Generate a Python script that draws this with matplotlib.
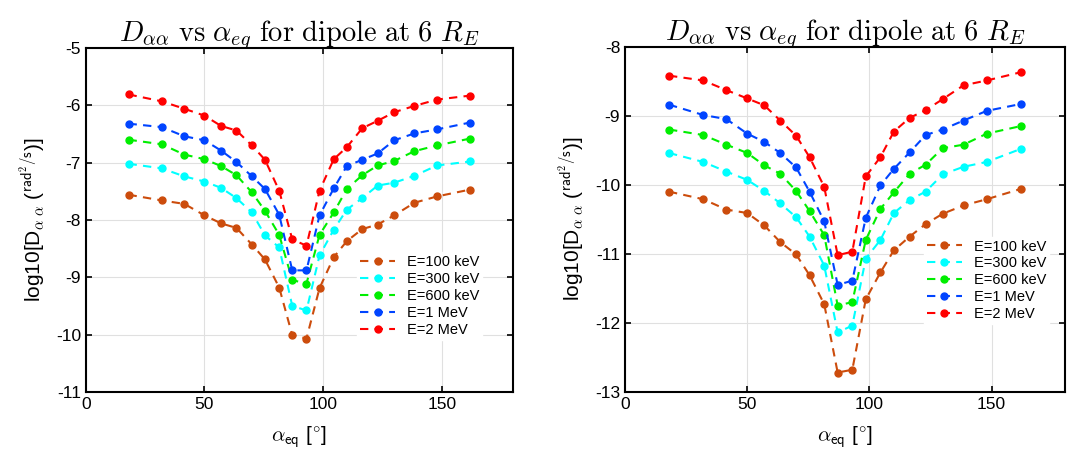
import matplotlib
matplotlib.use('Agg')
import matplotlib.pyplot as plt

plt.rcParams['mathtext.fontset'] = 'cm'
plt.rcParams['font.family'] = ['Liberation Sans', 'DejaVu Sans']

# pitch angles (deg)
alpha_eq = [18, 32, 41.5, 50, 57, 63.5, 70, 75.5, 81.5, 87,
            93, 98.5, 104.5, 110, 116.5, 123, 130, 138.5, 148, 162]

labels = ['E=100 keV', 'E=300 keV', 'E=600 keV', 'E=1 MeV', 'E=2 MeV']
colors = ['#cc4c0c', '#00ffff', '#00ee00', '#0044ff', '#ff0000']

# left panel: log10 D_aa
left_100k = [-7.56, -7.66, -7.72, -7.92, -8.06, -8.14, -8.43, -8.69, -9.18, -10.01,
             -10.07, -9.19, -8.65, -8.37, -8.16, -8.08, -7.92, -7.70, -7.59, -7.47]
left_300k = [-7.02, -7.10, -7.24, -7.33, -7.44, -7.62, -7.87, -8.27, -8.48, -9.50,
             -9.58, -8.62, -8.17, -7.82, -7.62, -7.40, -7.35, -7.23, -7.05, -6.98]
left_600k = [-6.60, -6.68, -6.86, -6.94, -7.06, -7.22, -7.52, -7.84, -8.26, -9.05,
             -9.11, -8.26, -7.87, -7.46, -7.22, -7.05, -6.97, -6.80, -6.70, -6.58]
left_1M = [-6.32, -6.38, -6.54, -6.61, -6.79, -6.99, -7.24, -7.46, -7.91, -8.88,
           -8.88, -7.92, -7.45, -7.06, -6.95, -6.84, -6.61, -6.49, -6.42, -6.30]
left_2M = [-5.81, -5.93, -6.06, -6.18, -6.36, -6.44, -6.70, -6.95, -7.49, -8.34,
           -8.45, -7.49, -6.94, -6.73, -6.40, -6.27, -6.12, -6.01, -5.90, -5.83]

# right panel
right_100k = [-10.10, -10.21, -10.36, -10.41, -10.59, -10.83, -11.01, -11.31, -11.73, -12.72,
              -12.68, -11.66, -11.27, -10.95, -10.75, -10.57, -10.42, -10.30, -10.21, -10.06]
right_300k = [-9.54, -9.67, -9.81, -9.93, -10.09, -10.27, -10.47, -10.75, -11.17, -12.14,
              -12.04, -11.07, -10.80, -10.41, -10.22, -10.10, -9.85, -9.74, -9.67, -9.48]
right_600k = [-9.20, -9.28, -9.42, -9.54, -9.72, -9.84, -10.09, -10.38, -10.73, -11.75,
              -11.70, -10.80, -10.35, -10.11, -9.84, -9.71, -9.47, -9.42, -9.26, -9.15]
right_1M = [-8.84, -8.99, -9.05, -9.26, -9.38, -9.54, -9.75, -10.10, -10.53, -11.45,
            -11.39, -10.48, -10.01, -9.77, -9.53, -9.28, -9.20, -9.07, -8.93, -8.83]
right_2M = [-8.42, -8.49, -8.63, -8.75, -8.85, -9.07, -9.29, -9.60, -10.03, -11.02,
            -10.97, -9.88, -9.60, -9.23, -9.03, -8.92, -8.76, -8.56, -8.49, -8.37]

left_series = [left_100k, left_300k, left_600k, left_1M, left_2M]
right_series = [right_100k, right_300k, right_600k, right_1M, right_2M]

fig = plt.figure(figsize=(10.73, 4.53), dpi=100)
ax1 = fig.add_axes([0.080, 0.135, 0.398, 0.759])
ax2 = fig.add_axes([0.5825, 0.135, 0.410, 0.762])

title = r'$D_{\alpha\alpha}\ \mathrm{vs}\ \alpha_{eq}\ \mathrm{for\ dipole\ at\ 6}\ R_E$'

for ax, series, ylim, leg_anchor in [(ax1, left_series, (-11, -5), (0.945, 0.13)),
                                     (ax2, right_series, (-13, -8), (0.98, 0.175))]:
    for vals, lab, c in zip(series, labels, colors):
        ax.plot(alpha_eq, vals, '--', color=c, marker='o', markersize=5,
                linewidth=1.5, dashes=(4, 3), label=lab)
    ax.set_xlim(0, 180)
    ax.set_ylim(*ylim)
    ax.set_xticks([0, 50, 100, 150])
    ax.grid(True, color='#e0e0e0', linewidth=0.8)
    ax.set_axisbelow(True)
    ax.tick_params(direction='in', length=4, width=1.2, labelsize=12.5,
                   right=True, top=True)
    for s in ax.spines.values():
        s.set_linewidth(1.5)
    ax.set_title(title, fontsize=20.5, pad=5)
    ax.set_xlabel(r'$\alpha_{\mathsf{eq}}$ [$^{\circ}$]', fontsize=15, labelpad=9)
    ax.set_ylabel(r'log10[D$_{\alpha\ \alpha}$ ($^{\mathsf{rad^2/s}}$)]', fontsize=15,
                  labelpad=6)
    leg = ax.legend(loc='lower right', bbox_to_anchor=leg_anchor, frameon=True,
                    fontsize=10.5, handlelength=2.4, labelspacing=0.2,
                    borderpad=0.2, fancybox=False)
    leg.get_frame().set_edgecolor('white')
    leg.get_frame().set_alpha(1.0)

ax1.set_yticks([-11, -10, -9, -8, -7, -6, -5])
ax1.set_yticklabels(['-11', '-10', '-9', '-8', '-7', '-6', '-5'])
ax2.set_yticks([-13, -12, -11, -10, -9, -8])
ax2.set_yticklabels(['-13', '-12', '-11', '-10', '-9', '-8'])

fig.savefig('out.png', dpi=100)
